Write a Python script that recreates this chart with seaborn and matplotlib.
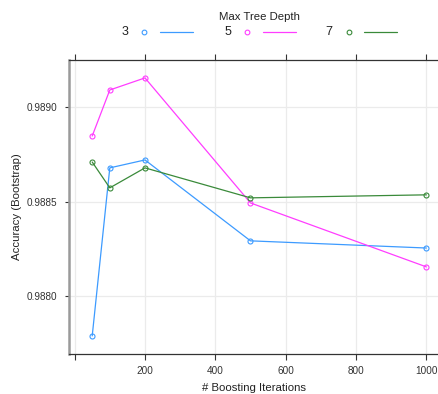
import matplotlib
matplotlib.use("Agg")
import matplotlib.pyplot as plt
from matplotlib.lines import Line2D
import seaborn as sns
import pandas as pd

# Boosting iterations evaluated and bootstrap accuracy per max tree depth
iterations = [50, 100, 200, 500, 1000]
depths = ["3", "5", "7"]
acc_depth3 = [0.987788, 0.988679, 0.988721, 0.988292, 0.988254]
acc_depth5 = [0.988848, 0.989092, 0.989156, 0.988493, 0.988154]
acc_depth7 = [0.988710, 0.988573, 0.988679, 0.988520, 0.988536]
x_ticks = [0, 200, 400, 600, 800, 1000]
x_ticklabels = ["", "200", "400", "600", "800", "1000"]
y_ticks = [0.9880, 0.9885, 0.9890]
y_ticklabels = ["0.9880", "0.9885", "0.9890"]

colors = ["#3d9bff", "#ff3dff", "#3a8a3a"]

df = pd.DataFrame({
    "iter": iterations * 3,
    "acc": acc_depth3 + acc_depth5 + acc_depth7,
    "depth": [d for d in depths for _ in iterations],
})

sns.set_theme(style="white")
plt.rcParams["font.family"] = ["Liberation Sans", "DejaVu Sans"]

fig = plt.figure(figsize=(4.39, 3.94), dpi=100)
ax = fig.add_axes([69 / 439, 1 - 354 / 394, 1 - 69 / 439, (354 - 60) / 394])

sns.lineplot(data=df, x="iter", y="acc", hue="depth", palette=colors,
             marker="o", markersize=3.6, markerfacecolor="none",
             markeredgewidth=0.8, linewidth=0.9, ax=ax, legend=False,
             errorbar=None)
for line, c in zip(ax.lines, colors):
    line.set_markeredgecolor(c)

ax.set_xlim(-16, 1036)
ax.set_ylim(0.987692, 0.989251)

ax.set_xticks(x_ticks)
ax.set_xticklabels(x_ticklabels)
ax.set_yticks(y_ticks)
ax.set_yticklabels(y_ticklabels)
ax.grid(True, color="#ebebeb", linewidth=0.9)
ax.set_axisbelow(True)

ax.tick_params(axis="x", which="both", direction="out", length=4.5, width=0.8,
               color="#333333", labelsize=7.2, labelcolor="#333333", pad=4.5,
               bottom=True, top=True)
ax.tick_params(axis="y", direction="out", length=2.6, width=0.8,
               color="#333333", labelsize=7.2, labelcolor="#333333", pad=6,
               left=True)

for side in ["top", "bottom"]:
    ax.spines[side].set_color("#333333")
    ax.spines[side].set_linewidth(0.9)
ax.spines["left"].set_color("#9a9a9a")
ax.spines["left"].set_linewidth(1.8)
ax.spines["right"].set_visible(False)

ax.set_xlabel("# Boosting Iterations", fontsize=8.2, color="#222222", labelpad=5)
ax.set_ylabel("Accuracy (Bootstrap)", fontsize=8.2, color="#222222", labelpad=3)

# Key above the panel: label, point symbol, line segment for each depth
fig.text(259.5 / 439, 1 - 17 / 394, "Max Tree Depth", ha="center", va="center",
         fontsize=8.2, color="#222222")
key_x = [125, 227.5, 329]
ky = 1 - 32 / 394
for d, c, x0 in zip(depths, colors, key_x):
    fig.text(x0 / 439, ky, d, ha="center", va="center", fontsize=9, color="#222222")
    fig.add_artist(Line2D([(x0 + 19.5) / 439], [ky], marker="o", markersize=3.4,
                          markerfacecolor="none", markeredgecolor=c,
                          markeredgewidth=0.8, transform=fig.transFigure))
    fig.add_artist(Line2D([(x0 + 35) / 439, (x0 + 68) / 439], [ky, ky], color=c,
                          linewidth=0.9, transform=fig.transFigure))

fig.savefig("out.png", dpi=100)
